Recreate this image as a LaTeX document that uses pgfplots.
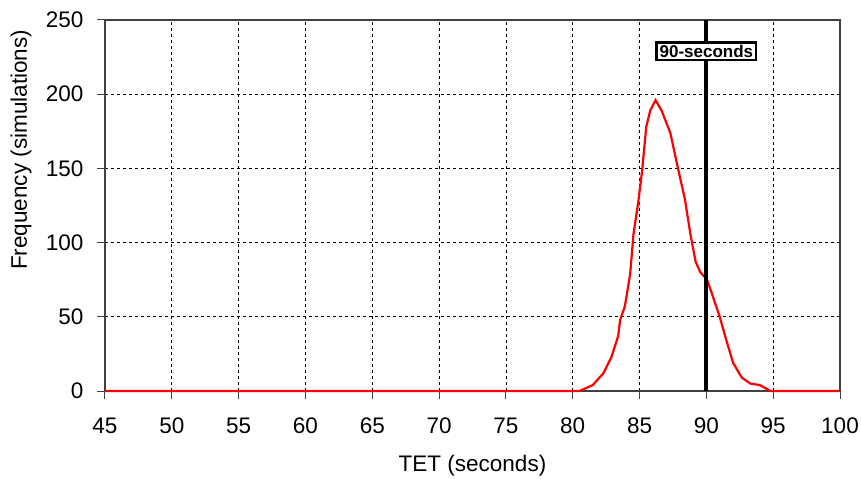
\documentclass[border=0pt]{standalone}
\usepackage{fontspec}
\setmainfont{Liberation Sans}
\usepackage{pgfplots}
\pgfplotsset{compat=1.18}
\usetikzlibrary{calc}

\begin{document}
\fontsize{22bp}{26bp}\selectfont
\begin{tikzpicture}
\begin{axis}[
    scale only axis,
    width=735bp, height=371bp,
    xmin=45, xmax=100, ymin=0, ymax=250,
    xtick={45,50,...,100},
    ytick={0,50,...,250},
    xtick pos=bottom, ytick pos=left,
    tick align=outside,
    major tick length=8bp,
    tick style={black!75, line width=1bp},
    axis line style={black!75, line width=1.2bp},
    grid=major,
    grid style={black, line width=0.8bp, dash pattern=on 3bp off 3bp},
    /pgf/number format/assume math mode=true,
    ticklabel style={font=\fontsize{22.5bp}{26bp}\selectfont},
    xticklabel style={yshift=-11bp},
    yticklabel style={xshift=-6bp},
    xlabel={TET (seconds)},
    ylabel={Frequency (simulations)},
    label style={font=\fontsize{22.5bp}{27bp}\selectfont},
    xlabel style={at={(axis description cs:0.5,-0.202)}, anchor=center},
    ylabel style={at={(axis description cs:-0.1143,0.65)}, anchor=center},
    clip=false,
]
% simulated TET distribution
\addplot[red, line width=2.2bp] coordinates {
 (45,0) (80.5,0) (81.5,4) (82.3,12) (82.9,23) (83.4,37) (83.55,48) (83.9,57)
 (84.3,79) (84.55,106) (84.9,127) (85.2,149) (85.5,178) (85.8,189) (86.2,196)
 (86.65,189) (87.3,174) (87.9,149) (88.4,129) (88.8,106) (89.2,87) (89.55,80)
 (90.05,75) (90.4,66) (91.0,50) (91.5,34) (92.0,19) (92.65,9) (93.3,5)
 (94.0,4) (94.8,0) (100,0)
};
% 90 second limit
\addplot[black, line width=4bp] coordinates {(90,0) (90,250)};
\node[draw=black, line width=2.2bp, fill=white, inner xsep=3bp, inner ysep=2.5bp,
      font=\fontsize{17bp}{20bp}\selectfont\bfseries] at (axis cs:90,229) {90-seconds};
\end{axis}
\pgfresetboundingbox
\path ($(current axis.south west)+(-105bp,-88bp)$) rectangle ($(current axis.north east)+(21bp,20bp)$);
\end{tikzpicture}
\end{document}
